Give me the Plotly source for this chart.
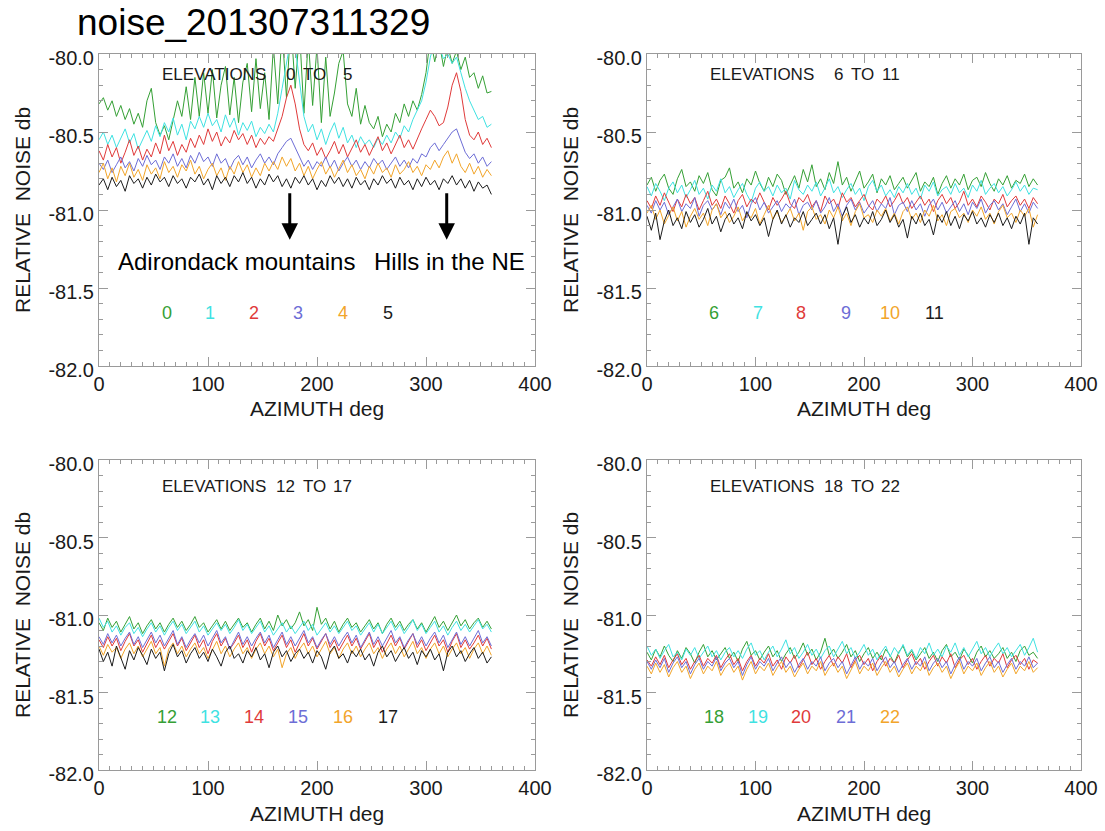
import plotly.graph_objects as go

W, H = 1105, 831
FONT = "Liberation Sans, Arial, Helvetica, sans-serif"

# azimuth sampling (deg) used for every series below
AZ_STEP = 4

# ---------------- elevations 0 to 5 ----------------
elev_0 = [-80.32, -80.28, -80.36, -80.30, -80.40, -80.33, -80.42, -80.35, -80.45, -80.38,
          -80.47, -80.30, -80.22, -80.44, -80.52, -80.46, -80.55, -80.42, -80.30, -80.40,
          -80.21, -80.42, -80.15, -80.40, -80.12, -80.38, -80.10, -80.41, -80.20, -80.08,
          -80.39, -80.15, -80.44, -80.18, -80.06, -80.37, -80.03, -80.35, -80.12, -80.42,
          -79.95, -80.32, -79.85, -80.28, -79.80, -80.22, -79.85, -80.38, -79.90, -80.33,
          -79.95, -80.44, -80.02, -80.40, -80.25, -80.06, -79.98, -80.32, -80.40, -80.22,
          -80.45, -80.33, -80.44, -80.48, -80.40, -80.53, -80.45, -80.50, -80.38, -80.44,
          -80.32, -80.40, -80.30, -80.36, -80.26, -80.12, -79.90, -80.05, -79.92, -80.08,
          -79.95, -80.06, -79.98, -80.10, -80.02, -80.15, -80.12, -80.22, -80.14, -80.25,
          -80.24]
elev_1 = [-80.55, -80.50, -80.58, -80.52, -80.60, -80.54, -80.48, -80.57, -80.51, -80.61,
          -80.55, -80.49, -80.56, -80.46, -80.53, -80.44, -80.50, -80.41, -80.52, -80.45,
          -80.55, -80.43, -80.48, -80.40, -80.47, -80.38, -80.46, -80.42, -80.50, -80.39,
          -80.47, -80.41, -80.52, -80.44, -80.49, -80.43, -80.53, -80.47, -80.51, -80.45,
          -80.50, -80.38, -80.22, -80.05, -79.90, -79.95, -80.18, -80.40, -80.50, -80.45,
          -80.55, -80.48, -80.58, -80.50, -80.44, -80.54, -80.47, -80.57, -80.52, -80.60,
          -80.53, -80.58, -80.55, -80.60, -80.54, -80.58, -80.52, -80.57, -80.50, -80.54,
          -80.46, -80.50, -80.42, -80.36, -80.30, -80.18, -80.02, -79.92, -79.95, -80.03,
          -80.00, -80.06, -80.02, -80.12, -80.22, -80.30, -80.36, -80.42, -80.40, -80.47,
          -80.45]
elev_2 = [-80.62, -80.68, -80.58, -80.66, -80.60, -80.70, -80.63, -80.55, -80.65, -80.59,
          -80.68, -80.61, -80.66, -80.57, -80.64, -80.52, -80.62, -80.56, -80.65, -80.58,
          -80.63, -80.54, -80.60, -80.52, -80.58, -80.48, -80.56, -80.50, -80.59, -80.53,
          -80.57, -80.49, -80.55, -80.51, -80.58, -80.52, -80.60, -80.54, -80.58, -80.53,
          -80.56, -80.48, -80.40, -80.28, -80.20, -80.32, -80.48, -80.58, -80.62, -80.57,
          -80.65, -80.60, -80.67, -80.62, -80.56, -80.64, -80.58, -80.66, -80.60, -80.55,
          -80.63, -80.58, -80.65, -80.59, -80.53, -80.62, -80.57, -80.64, -80.58, -80.52,
          -80.60, -80.55, -80.61, -80.54, -80.48, -80.42, -80.36, -80.40, -80.46, -80.44,
          -80.34, -80.20, -80.12, -80.24, -80.42, -80.52, -80.55, -80.50, -80.58, -80.54,
          -80.60]
elev_3 = [-80.70, -80.74, -80.68, -80.76, -80.71, -80.66, -80.73, -80.69, -80.75, -80.67,
          -80.72, -80.65, -80.71, -80.68, -80.74, -80.66, -80.70, -80.64, -80.72, -80.67,
          -80.73, -80.65, -80.70, -80.63, -80.69, -80.66, -80.72, -80.64, -80.70, -80.67,
          -80.74, -80.68, -80.65, -80.71, -80.66, -80.73, -80.68, -80.64, -80.70, -80.66,
          -80.71, -80.64, -80.60, -80.56, -80.54, -80.60, -80.67, -80.72, -80.68, -80.74,
          -80.69, -80.72, -80.66, -80.73, -80.68, -80.75, -80.70, -80.66, -80.72, -80.68,
          -80.74, -80.69, -80.73, -80.67, -80.71, -80.68, -80.74, -80.70, -80.66, -80.72,
          -80.68, -80.73, -80.67, -80.70, -80.64, -80.66, -80.60, -80.57, -80.62, -80.58,
          -80.54, -80.50, -80.48, -80.55, -80.63, -80.67, -80.64, -80.70, -80.66, -80.72,
          -80.69]
elev_4 = [-80.76, -80.70, -80.80, -80.73, -80.82, -80.72, -80.78, -80.70, -80.79, -80.74,
          -80.81, -80.71, -80.77, -80.73, -80.80, -80.69, -80.76, -80.72, -80.79, -80.71,
          -80.75, -80.68, -80.77, -80.72, -80.80, -80.74, -80.70, -80.78, -80.73, -80.81,
          -80.72, -80.77, -80.69, -80.76, -80.71, -80.79, -80.73, -80.78, -80.70, -80.75,
          -80.69, -80.74, -80.66, -80.72, -80.67, -80.75, -80.70, -80.78, -80.72, -80.80,
          -80.74, -80.69, -80.77, -80.72, -80.79, -80.73, -80.68, -80.76, -80.71, -80.78,
          -80.74, -80.80, -80.72, -80.77, -80.70, -80.76, -80.73, -80.79, -80.71, -80.77,
          -80.74, -80.69, -80.76, -80.72, -80.78, -80.71, -80.74, -80.68, -80.73, -80.66,
          -80.62, -80.70, -80.64, -80.72, -80.76, -80.70, -80.77, -80.72, -80.79, -80.74,
          -80.78]
elev_5 = [-80.84, -80.80, -80.87, -80.79, -80.85, -80.81, -80.88, -80.78, -80.83, -80.80,
          -80.86, -80.79, -80.84, -80.77, -80.82, -80.79, -80.85, -80.78, -80.83, -80.80,
          -80.86, -80.79, -80.82, -80.77, -80.84, -80.80, -80.87, -80.78, -80.83, -80.79,
          -80.85, -80.78, -80.82, -80.76, -80.83, -80.79, -80.86, -80.80, -80.84, -80.77,
          -80.82, -80.78, -80.85, -80.80, -80.86, -80.79, -80.83, -80.78, -80.84, -80.80,
          -80.87, -80.81, -80.85, -80.78, -80.83, -80.79, -80.85, -80.80, -80.86, -80.79,
          -80.84, -80.81, -80.87, -80.80, -80.84, -80.78, -80.83, -80.80, -80.86, -80.79,
          -80.84, -80.81, -80.87, -80.80, -80.85, -80.79, -80.84, -80.81, -80.87, -80.80,
          -80.83, -80.78, -80.84, -80.80, -80.86, -80.81, -80.88, -80.82, -80.86, -80.84,
          -80.90]

# ---------------- elevations 6 to 11 ----------------
elev_6 = [-80.84, -80.79, -80.88, -80.81, -80.77, -80.86, -80.90, -80.80, -80.74, -80.85,
          -80.82, -80.88, -80.78, -80.83, -80.76, -80.87, -80.91, -80.81, -80.79, -80.73,
          -80.86, -80.82, -80.89, -80.80, -80.84, -80.75, -80.83, -80.88, -80.79, -80.85,
          -80.77, -80.81, -80.90, -80.84, -80.78, -80.86, -80.74, -80.82, -80.71, -80.85,
          -80.80, -80.87, -80.76, -80.83, -80.69, -80.84, -80.79, -80.88, -80.81, -80.75,
          -80.86, -80.82, -80.77, -80.89, -80.80, -80.84, -80.78, -80.87, -80.83, -80.79,
          -80.86, -80.81, -80.76, -80.88, -80.82, -80.85, -80.79, -80.90, -80.83, -80.78,
          -80.86, -80.80, -80.84, -80.77, -80.87, -80.81, -80.79, -80.85, -80.76, -80.83,
          -80.88, -80.80, -80.84, -80.78, -80.86, -80.81, -80.83, -80.77, -80.85, -80.80,
          -80.84]
elev_7 = [-80.85, -80.91, -80.83, -80.88, -80.94, -80.86, -80.82, -80.89, -80.84, -80.92,
          -80.87, -80.81, -80.90, -80.86, -80.93, -80.84, -80.88, -80.80, -80.89, -80.85,
          -80.92, -80.87, -80.83, -80.90, -80.95, -80.86, -80.82, -80.88, -80.85, -80.91,
          -80.84, -80.89, -80.86, -80.93, -80.81, -80.87, -80.90, -80.84, -80.88, -80.82,
          -80.91, -80.86, -80.80, -80.89, -80.85, -80.92, -80.87, -80.83, -80.90, -80.86,
          -80.94, -80.85, -80.81, -80.88, -80.84, -80.91, -80.87, -80.92, -80.85, -80.89,
          -80.83, -80.90, -80.86, -80.93, -80.84, -80.88, -80.82, -80.91, -80.87, -80.85,
          -80.90, -80.83, -80.89, -80.86, -80.92, -80.84, -80.88, -80.81, -80.90, -80.86,
          -80.83, -80.89, -80.85, -80.91, -80.87, -80.82, -80.88, -80.84, -80.90, -80.86,
          -80.87]
elev_8 = [-80.94, -80.99, -80.91, -80.97, -80.89, -80.95, -81.01, -80.93, -80.98, -80.90,
          -80.96, -80.92, -81.00, -80.94, -80.88, -80.97, -80.93, -80.99, -80.91, -80.96,
          -81.02, -80.94, -80.90, -80.98, -80.93, -80.96, -80.89, -80.95, -81.00, -80.92,
          -80.97, -80.93, -80.88, -80.96, -80.99, -80.92, -80.95, -80.90, -80.98, -80.94,
          -81.01, -80.91, -80.96, -80.93, -80.99, -80.89, -80.95, -80.92, -80.98, -80.94,
          -80.90, -80.97, -81.00, -80.93, -80.96, -80.91, -80.98, -80.94, -80.89, -80.96,
          -80.92, -80.99, -80.95, -80.91, -80.97, -80.93, -81.01, -80.94, -80.90, -80.96,
          -80.92, -80.99, -80.95, -80.88, -80.97, -80.93, -80.98, -80.91, -80.95, -81.00,
          -80.93, -80.96, -80.90, -80.98, -80.94, -80.91, -80.97, -80.93, -80.99, -80.92,
          -80.96]
elev_9 = [-80.97, -81.02, -80.94, -81.00, -80.95, -81.03, -80.98, -80.93, -81.01, -80.96,
          -80.99, -80.92, -81.04, -80.97, -80.94, -81.00, -80.96, -81.03, -80.95, -80.99,
          -80.93, -81.01, -80.97, -81.05, -80.96, -80.92, -81.00, -80.95, -81.02, -80.98,
          -80.94, -81.01, -80.96, -80.99, -80.93, -81.03, -80.97, -80.95, -81.00, -80.94,
          -81.02, -80.98, -80.92, -81.01, -80.96, -81.04, -80.97, -80.93, -81.00, -80.95,
          -81.02, -80.98, -80.94, -81.01, -80.96, -80.99, -80.92, -81.03, -80.97, -80.95,
          -81.01, -80.94, -81.00, -80.96, -81.04, -80.97, -80.93, -81.00, -80.95, -81.02,
          -80.98, -80.94, -81.01, -80.96, -81.03, -80.95, -80.99, -80.93, -81.02, -80.97,
          -80.94, -81.00, -80.96, -81.03, -80.98, -80.93, -81.01, -80.96, -81.02, -80.95,
          -80.99]
elev_10 = [-81.02, -80.97, -81.06, -81.00, -81.09, -81.03, -80.98, -81.07, -81.01, -81.11,
           -81.04, -80.99, -81.06, -81.02, -81.10, -81.00, -80.96, -81.05, -81.01, -81.08,
           -81.04, -80.98, -81.07, -81.02, -81.05, -80.99, -81.09, -81.03, -80.97, -81.06,
           -81.01, -81.08, -81.04, -80.99, -81.07, -81.02, -81.13, -81.01, -80.98, -81.06,
           -81.03, -81.09, -81.00, -81.05, -80.98, -81.07, -81.02, -81.10, -81.01, -80.96,
           -81.05, -81.03, -81.08, -81.00, -81.04, -80.99, -81.07, -81.02, -81.09, -81.01,
           -80.98, -81.06, -81.02, -81.08, -81.00, -81.04, -80.97, -81.07, -81.03, -81.10,
           -81.01, -80.99, -81.05, -81.02, -81.08, -81.00, -81.04, -80.98, -81.06, -81.02,
           -81.09, -81.01, -80.97, -81.05, -81.02, -81.08, -81.00, -81.04, -80.99, -81.11,
           -81.03]
elev_11 = [-81.04, -81.13, -81.02, -81.19, -81.07, -81.00, -81.10, -81.05, -81.12, -81.01,
           -81.08, -81.03, -81.11, -81.06, -80.99, -81.09, -81.04, -81.14, -81.06, -81.02,
           -81.09, -81.05, -81.12, -81.01, -81.07, -81.03, -81.10, -81.05, -81.17, -81.06,
           -81.00, -81.09, -81.03, -81.11, -81.05, -81.08, -81.01, -81.10, -81.06, -81.02,
           -81.09, -81.03, -81.12, -81.05, -81.22, -81.04, -80.98, -81.08, -81.03, -81.11,
           -81.05, -81.09, -81.01, -81.10, -81.06, -81.00, -81.08, -81.03, -81.11, -81.06,
           -81.18, -81.04, -81.09, -81.02, -81.10, -81.06, -81.16, -81.03, -81.08, -81.01,
           -81.10, -81.04, -81.12, -81.03, -81.07, -81.01, -81.09, -81.05, -81.11, -81.03,
           -81.08, -81.02, -81.10, -81.05, -81.12, -81.04, -81.09, -81.02, -81.22, -81.05,
           -81.09]

# ---------------- elevations 12 to 17 ----------------
elev_12 = [-81.05, -81.10, -81.02, -81.08, -81.04, -81.11, -81.06, -81.01, -81.09, -81.05,
           -81.12, -81.07, -81.03, -81.09, -81.05, -81.11, -81.06, -81.02, -81.08, -81.04,
           -81.10, -81.06, -81.01, -81.08, -81.05, -81.11, -81.07, -81.03, -81.09, -81.04,
           -81.10, -81.06, -81.02, -81.08, -81.05, -81.11, -81.06, -81.02, -81.09, -81.04,
           -81.10, -81.00, -81.07, -81.03, -81.09, -81.05, -80.98, -81.07, -81.03, -81.10,
           -80.95, -81.06, -81.02, -81.09, -81.04, -81.11, -81.06, -81.02, -81.08, -81.05,
           -81.11, -81.07, -81.03, -81.09, -81.05, -81.12, -81.06, -81.02, -81.08, -81.04,
           -81.10, -81.06, -81.03, -81.09, -81.05, -81.11, -81.06, -81.01, -81.08, -81.04,
           -81.10, -81.05, -81.00, -81.07, -81.03, -81.09, -81.05, -81.02, -81.08, -81.04,
           -81.09]
elev_13 = [-81.02, -81.08, -81.04, -81.11, -81.07, -81.13, -81.08, -81.05, -81.12, -81.08,
           -81.14, -81.09, -81.05, -81.11, -81.07, -81.13, -81.08, -81.04, -81.10, -81.06,
           -81.12, -81.08, -81.04, -81.11, -81.07, -81.13, -81.09, -81.05, -81.10, -81.06,
           -81.12, -81.08, -81.03, -81.10, -81.06, -81.12, -81.08, -81.04, -81.11, -81.07,
           -81.13, -81.09, -81.05, -81.11, -81.07, -81.12, -81.08, -81.04, -81.10, -81.06,
           -81.13, -81.09, -81.05, -81.11, -81.07, -81.12, -81.08, -81.04, -81.10, -81.07,
           -81.13, -81.09, -81.05, -81.11, -81.06, -81.12, -81.08, -81.04, -81.10, -81.06,
           -81.12, -81.08, -81.03, -81.10, -81.06, -81.12, -81.08, -81.04, -81.11, -81.07,
           -81.13, -81.08, -81.04, -81.10, -81.06, -81.11, -81.07, -81.03, -81.09, -81.06,
           -81.11]
elev_14 = [-81.16, -81.21, -81.14, -81.20, -81.15, -81.23, -81.17, -81.12, -81.20, -81.16,
           -81.24, -81.18, -81.13, -81.21, -81.16, -81.22, -81.17, -81.12, -81.20, -81.15,
           -81.23, -81.18, -81.13, -81.21, -81.16, -81.25, -81.17, -81.12, -81.20, -81.15,
           -81.22, -81.18, -81.13, -81.21, -81.16, -81.24, -81.17, -81.12, -81.20, -81.15,
           -81.23, -81.18, -81.13, -81.21, -81.16, -81.24, -81.18, -81.12, -81.20, -81.15,
           -81.22, -81.17, -81.12, -81.21, -81.16, -81.23, -81.18, -81.13, -81.20, -81.15,
           -81.22, -81.17, -81.12, -81.21, -81.16, -81.24, -81.18, -81.13, -81.20, -81.15,
           -81.22, -81.17, -81.12, -81.21, -81.16, -81.23, -81.18, -81.13, -81.20, -81.16,
           -81.24, -81.17, -81.12, -81.21, -81.16, -81.22, -81.18, -81.13, -81.20, -81.15,
           -81.22]
elev_15 = [-81.14, -81.19, -81.12, -81.18, -81.13, -81.20, -81.15, -81.11, -81.19, -81.14,
           -81.21, -81.16, -81.11, -81.18, -81.13, -81.20, -81.15, -81.10, -81.19, -81.14,
           -81.21, -81.16, -81.12, -81.18, -81.13, -81.20, -81.15, -81.10, -81.18, -81.14,
           -81.22, -81.16, -81.11, -81.19, -81.14, -81.20, -81.15, -81.11, -81.18, -81.13,
           -81.21, -81.16, -81.11, -81.19, -81.14, -81.20, -81.15, -81.10, -81.18, -81.14,
           -81.21, -81.16, -81.12, -81.19, -81.14, -81.20, -81.15, -81.11, -81.18, -81.13,
           -81.21, -81.16, -81.11, -81.19, -81.14, -81.20, -81.15, -81.10, -81.18, -81.14,
           -81.21, -81.16, -81.12, -81.19, -81.14, -81.20, -81.15, -81.11, -81.18, -81.13,
           -81.21, -81.16, -81.11, -81.19, -81.14, -81.20, -81.15, -81.10, -81.18, -81.14,
           -81.20]
elev_16 = [-81.20, -81.26, -81.19, -81.24, -81.21, -81.28, -81.22, -81.18, -81.25, -81.20,
           -81.27, -81.22, -81.17, -81.25, -81.21, -81.33, -81.22, -81.18, -81.25, -81.20,
           -81.27, -81.22, -81.18, -81.25, -81.21, -81.28, -81.22, -81.17, -81.25, -81.20,
           -81.27, -81.22, -81.18, -81.25, -81.21, -81.28, -81.22, -81.18, -81.25, -81.20,
           -81.27, -81.22, -81.34, -81.25, -81.21, -81.28, -81.22, -81.18, -81.25, -81.20,
           -81.27, -81.22, -81.17, -81.25, -81.21, -81.28, -81.22, -81.18, -81.25, -81.20,
           -81.27, -81.22, -81.18, -81.25, -81.21, -81.28, -81.22, -81.18, -81.25, -81.20,
           -81.27, -81.22, -81.17, -81.25, -81.21, -81.28, -81.22, -81.18, -81.25, -81.20,
           -81.27, -81.22, -81.18, -81.25, -81.21, -81.28, -81.22, -81.18, -81.25, -81.20,
           -81.26]
elev_17 = [-81.22, -81.30, -81.24, -81.33, -81.20, -81.27, -81.35, -81.23, -81.29, -81.21,
           -81.26, -81.32, -81.22, -81.28, -81.24, -81.36, -81.25, -81.19, -81.27, -81.23,
           -81.31, -81.25, -81.21, -81.28, -81.24, -81.30, -81.22, -81.27, -81.33, -81.24,
           -81.20, -81.28, -81.25, -81.31, -81.23, -81.27, -81.21, -81.29, -81.25, -81.34,
           -81.24, -81.20, -81.27, -81.23, -81.30, -81.25, -81.22, -81.28, -81.24, -81.31,
           -81.23, -81.27, -81.35, -81.24, -81.20, -81.28, -81.25, -81.31, -81.23, -81.27,
           -81.22, -81.29, -81.25, -81.33, -81.24, -81.20, -81.27, -81.23, -81.30, -81.25,
           -81.21, -81.28, -81.24, -81.32, -81.23, -81.27, -81.22, -81.29, -81.25, -81.36,
           -81.24, -81.20, -81.27, -81.23, -81.30, -81.25, -81.21, -81.28, -81.24, -81.31,
           -81.27]

# ---------------- elevations 18 to 22 ----------------
elev_18 = [-81.24, -81.29, -81.22, -81.27, -81.20, -81.26, -81.30, -81.23, -81.28, -81.21,
           -81.25, -81.31, -81.24, -81.19, -81.27, -81.23, -81.29, -81.25, -81.21, -81.28,
           -81.24, -81.30, -81.22, -81.17, -81.26, -81.23, -81.29, -81.24, -81.20, -81.27,
           -81.23, -81.30, -81.25, -81.21, -81.28, -81.24, -81.18, -81.26, -81.22, -81.29,
           -81.24, -81.15, -81.26, -81.22, -81.28, -81.24, -81.19, -81.27, -81.23, -81.30,
           -81.25, -81.21, -81.28, -81.24, -81.29, -81.22, -81.26, -81.31, -81.24, -81.20,
           -81.27, -81.23, -81.29, -81.25, -81.21, -81.28, -81.24, -81.30, -81.23, -81.19,
           -81.27, -81.24, -81.29, -81.22, -81.26, -81.31, -81.24, -81.20, -81.27, -81.23,
           -81.28, -81.25, -81.21, -81.28, -81.24, -81.30, -81.23, -81.20, -81.26, -81.24,
           -81.28]
elev_19 = [-81.20, -81.26, -81.22, -81.28, -81.23, -81.19, -81.27, -81.24, -81.29, -81.22,
           -81.26, -81.21, -81.28, -81.24, -81.20, -81.27, -81.23, -81.29, -81.24, -81.21,
           -81.27, -81.23, -81.28, -81.22, -81.18, -81.26, -81.23, -81.29, -81.24, -81.20,
           -81.27, -81.22, -81.16, -81.25, -81.21, -81.28, -81.24, -81.19, -81.26, -81.22,
           -81.28, -81.23, -81.20, -81.27, -81.22, -81.17, -81.25, -81.21, -81.28, -81.24,
           -81.19, -81.26, -81.22, -81.29, -81.24, -81.20, -81.27, -81.21, -81.25, -81.19,
           -81.26, -81.22, -81.28, -81.21, -81.25, -81.18, -81.26, -81.22, -81.27, -81.20,
           -81.24, -81.18, -81.26, -81.21, -81.27, -81.22, -81.17, -81.25, -81.21, -81.27,
           -81.22, -81.18, -81.25, -81.21, -81.27, -81.23, -81.19, -81.26, -81.21, -81.15,
           -81.24]
elev_20 = [-81.29, -81.33, -81.27, -81.32, -81.26, -81.34, -81.29, -81.25, -81.32, -81.28,
           -81.35, -81.30, -81.26, -81.33, -81.28, -81.31, -81.26, -81.34, -81.29, -81.25,
           -81.32, -81.28, -81.36, -81.30, -81.26, -81.33, -81.28, -81.31, -81.25, -81.33,
           -81.29, -81.35, -81.27, -81.31, -81.26, -81.34, -81.29, -81.24, -81.32, -81.28,
           -81.35, -81.30, -81.26, -81.33, -81.27, -81.31, -81.25, -81.34, -81.29, -81.26,
           -81.32, -81.28, -81.36, -81.30, -81.26, -81.33, -81.28, -81.31, -81.26, -81.34,
           -81.29, -81.25, -81.32, -81.28, -81.35, -81.30, -81.26, -81.33, -81.27, -81.31,
           -81.25, -81.34, -81.29, -81.26, -81.32, -81.28, -81.35, -81.30, -81.26, -81.33,
           -81.28, -81.31, -81.25, -81.34, -81.29, -81.26, -81.32, -81.28, -81.35, -81.29,
           -81.31]
elev_21 = [-81.30, -81.35, -81.29, -81.34, -81.28, -81.37, -81.31, -81.27, -81.34, -81.30,
           -81.38, -81.32, -81.28, -81.35, -81.30, -81.33, -81.27, -81.36, -81.31, -81.28,
           -81.34, -81.30, -81.39, -81.32, -81.27, -81.35, -81.30, -81.33, -81.28, -81.36,
           -81.31, -81.27, -81.34, -81.30, -81.37, -81.32, -81.28, -81.35, -81.30, -81.33,
           -81.27, -81.36, -81.31, -81.28, -81.34, -81.30, -81.38, -81.32, -81.27, -81.35,
           -81.30, -81.33, -81.28, -81.36, -81.31, -81.27, -81.34, -81.30, -81.37, -81.32,
           -81.28, -81.35, -81.30, -81.33, -81.27, -81.36, -81.31, -81.28, -81.34, -81.30,
           -81.38, -81.32, -81.27, -81.35, -81.30, -81.33, -81.28, -81.36, -81.31, -81.27,
           -81.34, -81.30, -81.37, -81.32, -81.28, -81.35, -81.30, -81.33, -81.27, -81.34,
           -81.31]
elev_22 = [-81.33, -81.38, -81.31, -81.37, -81.32, -81.40, -81.34, -81.30, -81.37, -81.33,
           -81.41, -81.35, -81.31, -81.38, -81.33, -81.36, -81.30, -81.39, -81.34, -81.31,
           -81.37, -81.33, -81.42, -81.35, -81.30, -81.38, -81.33, -81.36, -81.31, -81.39,
           -81.34, -81.30, -81.37, -81.33, -81.40, -81.35, -81.31, -81.38, -81.33, -81.36,
           -81.30, -81.39, -81.34, -81.31, -81.37, -81.33, -81.41, -81.35, -81.30, -81.38,
           -81.33, -81.36, -81.31, -81.39, -81.34, -81.30, -81.37, -81.33, -81.40, -81.35,
           -81.31, -81.38, -81.33, -81.36, -81.30, -81.39, -81.34, -81.31, -81.37, -81.33,
           -81.41, -81.35, -81.30, -81.38, -81.33, -81.36, -81.31, -81.39, -81.34, -81.30,
           -81.37, -81.33, -81.40, -81.35, -81.31, -81.38, -81.33, -81.36, -81.30, -81.37,
           -81.34]

ALL_ELEV = [elev_0, elev_1, elev_2, elev_3, elev_4, elev_5,
            elev_6, elev_7, elev_8, elev_9, elev_10, elev_11,
            elev_12, elev_13, elev_14, elev_15, elev_16, elev_17,
            elev_18, elev_19, elev_20, elev_21, elev_22]

panel_ranges = [(0, 5), (6, 11), (12, 17), (18, 22)]
legend_az = [62, 102, 142, 183, 224, 265]
legend_level = [-81.66, -81.66, -81.66, -81.66]

x_tickvals = [0, 100, 200, 300, 400]
y_tickvals = [-82.0, -81.5, -81.0, -80.5, -80.0]
y_ticktext = ["-82.0", "-81.5", "-81.0", "-80.5", "-80.0"]

COLORS = ["#35a035", "#3fe2e2", "#e03a3a", "#6d6dd6", "#f2a52a", "#1c1c1c"]
AX = "#9a9a9a"
TXT = "#1a1a1a"

title_text = "noise_201307311329"
annot_mountains = "Adirondack mountains"
annot_hills = "Hills in the NE"
arrow_az = [175, 319]

# --------------- layout geometry (pixels) ---------------
col_x = [(99, 535), (647, 1081)]
row_y = [(54, 366), (460, 770)]


def px(x):
    return x / W


def py(y):
    return 1 - y / H


fig = go.Figure()
annotations = []
layout_axes = {}

for p, (e0, e1) in enumerate(panel_ranges):
    r, c = divmod(p, 2)
    k = "" if p == 0 else str(p + 1)
    xref, yref = "x" + k, "y" + k
    for j, e in enumerate(range(e0, e1 + 1)):
        vals = ALL_ELEV[e]
        az = [AZ_STEP * i for i in range(len(vals))]
        fig.add_trace(go.Scatter(x=az, y=vals, mode="lines", xaxis=xref, yaxis=yref,
                                 line=dict(color=COLORS[j], width=1), showlegend=False,
                                 name=str(e)))
        annotations.append(dict(x=legend_az[j], y=legend_level[p], xref=xref, yref=yref,
                                text=str(e), showarrow=False, xanchor="center",
                                yanchor="middle",
                                font=dict(family=FONT, size=18, color=COLORS[j])))
    x0, x1 = col_x[c]
    y0, y1 = row_y[r]
    common = dict(showline=True, linecolor=AX, linewidth=1, mirror="ticks",
                  ticks="inside", tickcolor=AX, tickwidth=1, ticklen=9,
                  showgrid=False, zeroline=False, automargin=False,
                  tickfont=dict(family=FONT, size=20, color=TXT))
    layout_axes["xaxis" + k] = dict(common, domain=[px(x0), px(x1)], range=[0, 400],
                                    tickmode="array", tickvals=x_tickvals, anchor=yref,
                                    minor=dict(dtick=10, tick0=0, ticks="inside", ticklen=4,
                                               tickcolor=AX, showgrid=False))
    layout_axes["yaxis" + k] = dict(common, domain=[py(y1), py(y0)], range=[-82, -80],
                                    tickmode="array", tickvals=y_tickvals,
                                    ticktext=y_ticktext, anchor=xref, ticklabelshift=4,
                                    minor=dict(dtick=0.1, tick0=-82, ticks="inside",
                                               ticklen=4, tickcolor=AX, showgrid=False))
    # axis titles
    annotations.append(dict(x=px((x0 + x1) / 2), y=py(y1 + 43), xref="paper", yref="paper",
                            xanchor="center", yanchor="middle",
                            text="AZIMUTH deg", showarrow=False,
                            font=dict(family=FONT, size=21, color=TXT)))
    annotations.append(dict(x=px(x0 - 77), y=py((y0 + y1) / 2), xref="paper", yref="paper",
                            xanchor="center", yanchor="middle",
                            text="RELATIVE\u00a0 NOISE db", showarrow=False, textangle=-90,
                            font=dict(family=FONT, size=21, color=TXT)))
    # panel label "ELEVATIONS  a TO  b"
    ly = y0 + 21 if r == 0 else y0 + 26
    lx = x0 + 61
    lab_font = dict(family=FONT, size=17, color=TXT)
    for txt, xx, anc in [("ELEVATIONS", lx, "left"), (str(e0), lx + 137, "right"),
                         ("TO", lx + 141, "left"), (str(e1), lx + 194, "right")]:
        annotations.append(dict(x=px(xx), y=py(ly), xref="paper", yref="paper",
                                xanchor=anc, yanchor="middle", text=txt,
                                showarrow=False, font=lab_font))

# arrows and their labels on the first panel
for a in arrow_az:
    annotations.append(dict(x=a, y=-81.19, xref="x", yref="y", ax=0, ay=-48,
                            axref="pixel", ayref="pixel", text="", showarrow=True,
                            arrowhead=2, arrowsize=1.1, arrowwidth=3, arrowcolor="#000000"))
annotations.append(dict(x=126, y=-81.33, xref="x", yref="y", text=annot_mountains,
                        xanchor="center", yanchor="middle", showarrow=False,
                        font=dict(family=FONT, size=24, color="#000000")))
annotations.append(dict(x=322, y=-81.33, xref="x", yref="y", text=annot_hills,
                        xanchor="center", yanchor="middle", showarrow=False,
                        font=dict(family=FONT, size=24, color="#000000")))

# figure title
annotations.append(dict(x=px(75), y=py(23), xref="paper", yref="paper", xanchor="left",
                        yanchor="middle", text=title_text, showarrow=False,
                        font=dict(family=FONT, size=37, color="#000000")))

fig.update_layout(template="none", width=W, height=H,
                  margin=dict(l=0, r=0, t=0, b=0, autoexpand=False),
                  paper_bgcolor="white", plot_bgcolor="white",
                  showlegend=False, annotations=annotations, **layout_axes)

fig.write_html("out.html")
